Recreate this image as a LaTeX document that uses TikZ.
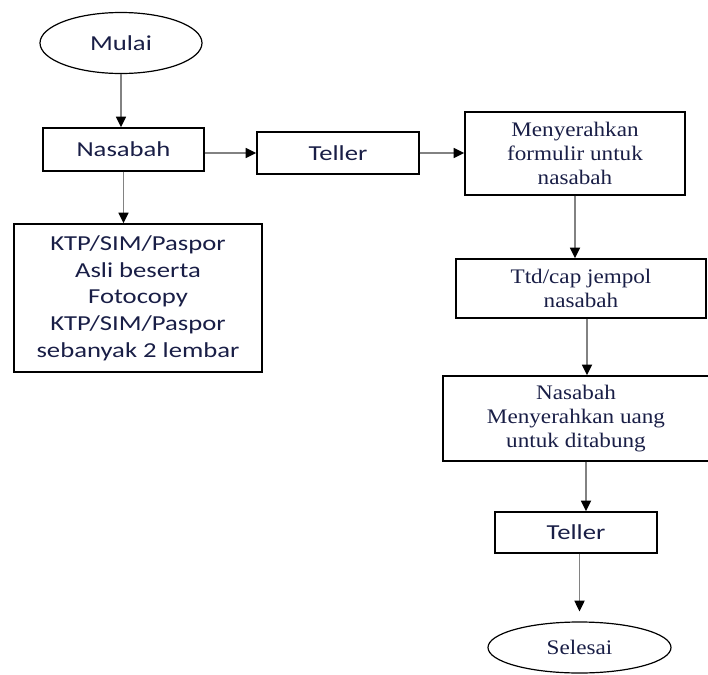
\documentclass[tikz,border=0pt]{standalone}
\usepackage{fontspec}
\setmainfont[FakeStretch=1.12]{Liberation Serif}
\newfontfamily\calfont[FakeStretch=1.25]{Carlito}
\usetikzlibrary{arrows.meta,shapes.geometric}
\definecolor{inkblue}{RGB}{25,30,70}
\definecolor{linegray}{RGB}{130,130,130}

\tikzset{
	box/.style={draw=black, line width=1.1pt, rectangle, align=center, text=inkblue, inner sep=0pt},
	oval/.style={draw=black, line width=0.9pt, ellipse, text=inkblue, inner sep=0pt},
	sanstext/.style={font=\calfont\fontsize{16}{20}\selectfont},
	seriftext/.style={font=\fontsize{15.5}{18}\selectfont},
	flow/.style={draw=linegray, line width=1.3pt, -{Triangle[color=black,length=8pt,width=7.5pt]}}
}

\begin{document}
\begin{tikzpicture}[x=0.75pt, y=-0.75pt]
			%%%%% START %%%%%
			\useasboundingbox (0, 0) rectangle (708, 675);
			
			\node[oval, sanstext, minimum width=121.5pt, minimum height=45.75pt] (mulai) at (121, 43) {Mulai};
			\node[box, sanstext, minimum width=120.75pt, minimum height=32.25pt] (nasabah) at (123.5, 149.5) {Nasabah};
			\node[box, sanstext, minimum width=121.5pt, minimum height=31.5pt] (teller) at (338, 153) {Teller};
			\node[box, seriftext, minimum width=165pt, minimum height=62.25pt] (serah) at (575, 153.5) {Menyerahkan\\formulir untuk\\nasabah};
			\node[box, sanstext, minimum width=186pt, minimum height=111pt] (ktp) at (138, 298) {KTP/SIM/Paspor\\Asli beserta\\Fotocopy\\KTP/SIM/Paspor\\sebanyak 2 lembar};
			\node[box, seriftext, minimum width=187.5pt, minimum height=44.25pt] (ttd) at (581, 288.5) {Ttd/cap jempol\\nasabah};
			\node[box, seriftext, minimum width=199.5pt, minimum height=63.75pt] (setor) at (576, 418.5) {Nasabah\\Menyerahkan uang\\untuk ditabung};
			\node[box, sanstext, minimum width=121.5pt, minimum height=30.75pt] (teller2) at (576, 532.5) {Teller};
			\node[oval, seriftext, minimum width=137.25pt, minimum height=38.25pt] (selesai) at (579.5, 647.5) {Selesai};
			
			\draw[flow] (mulai.south) -- (mulai.south |- nasabah.north);
			\draw[flow] (nasabah.south) -- (nasabah.south |- ktp.north);
			\draw[flow] (nasabah.east |- teller.west) -- (teller.west);
			\draw[flow] (teller.east) -- (teller.east -| serah.west);
			\draw[flow] (serah.south) -- (serah.south |- ttd.north);
			\draw[flow] ([xshift=4.5pt]ttd.south) -- ([xshift=4.5pt]ttd.south |- setor.north);
			\draw[flow] ([xshift=7.5pt]setor.south) -- ([xshift=7.5pt]setor.south |- teller2.north);
			\draw[flow, shorten >=7.5pt] (selesai.north |- teller2.south) -- (selesai.north);
			%%%%% END %%%%%
\end{tikzpicture}
\end{document}
